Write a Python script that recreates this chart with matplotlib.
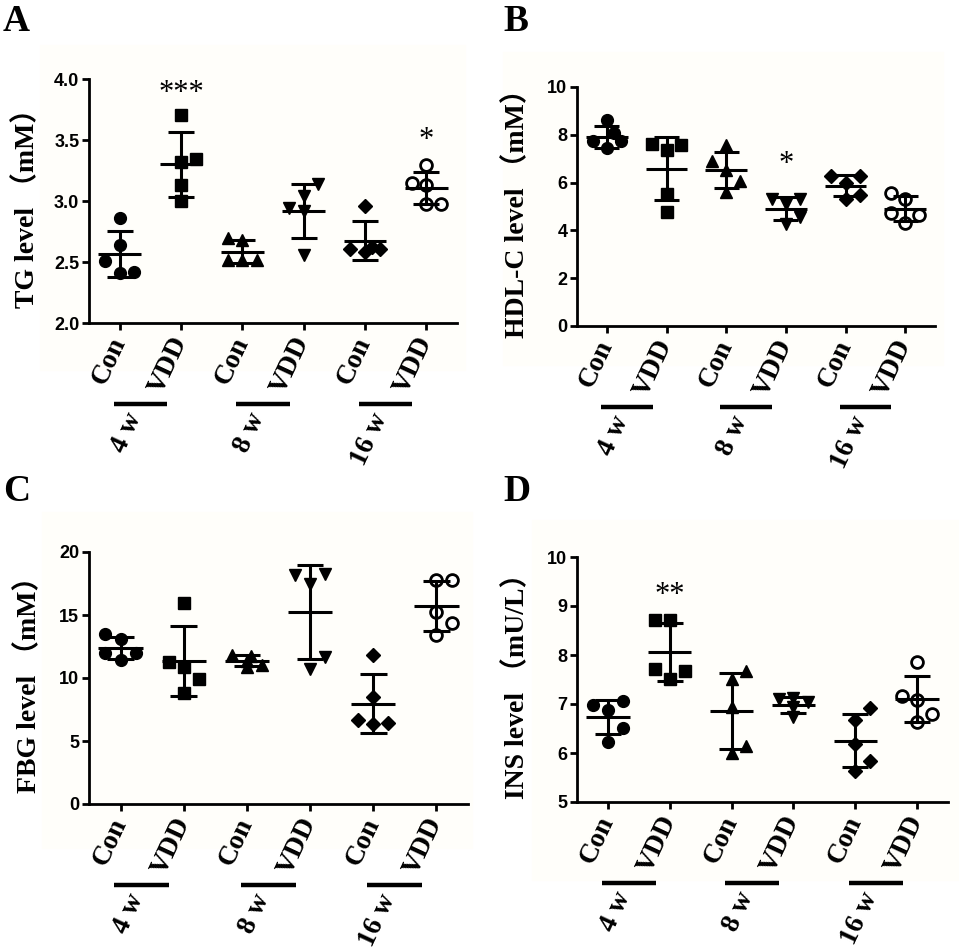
import numpy as np
import matplotlib
matplotlib.use("Agg")
import matplotlib.pyplot as plt
from matplotlib.transforms import ScaledTranslation
from matplotlib.patches import Rectangle

# group layout shared by all panels
groups = ["Con", "VDD", "Con", "VDD", "Con", "VDD"]
weeks = ["4 w", "8 w", "16 w"]
markers = ["o", "s", "^", "v", "D", "o"]
open_marker = [False, False, False, False, False, True]

# panel A: TG (mM)
tg_vals = [[2.86, 2.64, 2.51, 2.41, 2.42],
           [3.705, 3.345, 3.318, 3.132, 2.996],
           [2.70, 2.677, 2.518, 2.513, 2.518],
           [2.94, 3.037, 3.138, 2.92, 2.56],
           [2.96, 2.606, 2.578, 2.62, 2.606],
           [3.296, 3.151, 3.132, 2.977, 2.977]]
tg_cols = [[0, 0, -1, 0, 1], [0, 1, 0, 0, 0], [-1, 0, -1, 0, 1],
           [-1, 0, 1, 0, 0], [0, -1, 0, 0.5, 1], [0, -1, 0, 1, 0]]
tg_stars = {1: ("***", 3.88), 5: ("*", 3.50)}

# panel B: HDL-C (mM)
hdl_vals = [[8.60, 7.72, 8.07, 7.72, 7.44],
            [7.63, 7.56, 7.35, 5.53, 4.79],
            [7.58, 6.89, 6.51, 6.05, 5.59],
            [5.31, 5.31, 5.11, 4.58, 4.27],
            [6.26, 6.26, 6.00, 5.49, 5.31],
            [5.56, 5.31, 4.72, 4.65, 4.30]]
hdl_cols = [[0, -1, 0.5, 1, 0], [-1, 1, 0, 0, 0], [0, -1, 0, 1, 0],
            [-1, 1, 0, 1, 0], [-1, 1, 0, 1, 0], [-1, 0, -1, 1, 0]]
hdl_stars = {3: ("*", 6.77)}

# panel C: FBG (mM)
fbg_vals = [[13.48, 13.06, 11.95, 11.42, 11.95],
            [15.96, 11.24, 10.90, 9.89, 8.79],
            [11.85, 11.75, 11.35, 11.05, 10.85],
            [18.15, 18.28, 17.49, 11.69, 10.71],
            [11.82, 8.47, 6.68, 6.36, 6.46],
            [17.76, 17.81, 15.25, 14.33, 13.40]]
fbg_cols = [[-1, 0, -1, 0, 1], [0, -1, 0, 1, 0], [-1, 0.3, 0, 1, 0],
            [-1, 1, 0, 1, 0], [0, 0, -1, 0, 1], [0, 1, 0, 1, 0]]
fbg_stars = {}

# panel D: INS (mU/L)
ins_vals = [[6.98, 7.07, 6.87, 6.52, 6.23],
            [8.71, 8.71, 7.71, 7.68, 7.50],
            [7.68, 7.52, 6.93, 6.15, 6.00],
            [7.10, 7.12, 7.05, 6.93, 6.73],
            [6.91, 6.68, 6.19, 5.84, 5.64],
            [7.86, 7.16, 7.08, 6.80, 6.64]]
ins_cols = [[-1, 1, 0, 1, 0], [-1, 0, -1, 1, 0], [1, 0, 0, 1, 0],
            [-1, 0, 1, 0, 0], [1, 0, 0, 1, 0], [0, -1, 0, 1, 0]]
ins_stars = {1: ("**", 9.22)}

serif = ["Liberation Serif", "Noto Sans CJK SC"]
sans = "Liberation Sans"

W, H = 959, 950
fig = plt.figure(figsize=(W / 100, H / 100), dpi=100)


def px_rect(l, t, r, b):
    return [l / W, 1 - b / H, (r - l) / W, (b - t) / H]


# very faint cream backdrop behind each panel
for l, t, r, b in [(40, 45, 465, 370), (503, 52, 943, 365),
                   (42, 512, 472, 848), (532, 520, 958, 880)]:
    fig.patches.append(Rectangle((l / W, 1 - b / H), (r - l) / W, (b - t) / H,
                                 transform=fig.transFigure, color="#fffefa",
                                 zorder=-10))


def panel(box, vals, cols, stars, ylim, yticks, ytl, ylabel, letter, lpos, labelpad):
    ax = fig.add_axes(px_rect(*box))
    ax.patch.set_alpha(0)
    spread = 0.24
    for i, (v, c) in enumerate(zip(vals, cols)):
        x = i + spread * np.array(c)
        if open_marker[i]:
            ax.plot(x, v, ls="none", marker=markers[i], ms=8.5, mfc="white",
                    mec="black", mew=2, zorder=3, clip_on=False)
        else:
            ms = 7.5 if markers[i] == "D" else 8.5
            ax.plot(x, v, ls="none", marker=markers[i], ms=ms, color="black",
                    zorder=3, clip_on=False)
        m = np.mean(v)
        sd = np.std(v, ddof=1)
        ax.hlines(m, i - 0.35, i + 0.35, color="black", lw=2.2, zorder=4)
        ax.hlines([m - sd, m + sd], i - 0.21, i + 0.21, color="black", lw=2.2, zorder=4)
        ax.vlines(i, m - sd, m + sd, color="black", lw=2.2, zorder=4)
        if i in stars:
            txt, yy = stars[i]
            ax.text(i, yy, txt, ha="center", va="center", fontsize=22,
                    family=serif, zorder=5)

    ax.set_xlim(-0.5, 5.5)
    ax.set_ylim(*ylim)
    ax.set_yticks(yticks)
    ax.set_yticklabels(ytl, fontsize=13, fontweight="bold", family=sans)
    ax.set_xticks(range(6))
    ax.set_xticklabels(groups, rotation=65, ha="right", va="center",
                       rotation_mode="anchor", fontsize=20, fontweight="bold",
                       family=serif)
    ax.tick_params(axis="x", length=5, width=2, pad=6)
    ax.tick_params(axis="y", length=5, width=2, pad=2)
    for s in ["top", "right"]:
        ax.spines[s].set_visible(False)
    for s in ["left", "bottom"]:
        ax.spines[s].set_linewidth(2)
    ax.set_ylabel(ylabel, fontsize=20, fontweight="bold", family=serif,
                  labelpad=labelpad)

    # week brackets under each Con/VDD pair
    bar_tr = ax.get_xaxis_transform() + ScaledTranslation(0, -58 / 72, fig.dpi_scale_trans)
    lab_tr = ax.get_xaxis_transform() + ScaledTranslation(0, -66 / 72, fig.dpi_scale_trans)
    for k, wk in enumerate(weeks):
        x0 = 2 * k
        ax.plot([x0 - 0.1, x0 + 0.77], [0, 0], color="black", lw=3.2,
                transform=bar_tr, clip_on=False, solid_capstyle="butt")
        ax.text(x0 + 0.26, 0, wk, transform=lab_tr, rotation=65, ha="right",
                va="center", rotation_mode="anchor", fontsize=20,
                fontweight="bold", family=serif)

    fig.text(lpos[0] / W, 1 - lpos[1] / H, letter, fontsize=27,
             fontweight="bold", family=serif, va="top", ha="left")
    return ax


panel((89, 79, 457, 323), tg_vals, tg_cols, tg_stars, (2.0, 4.0),
      [2.0, 2.5, 3.0, 3.5, 4.0], ["2.0", "2.5", "3.0", "3.5", "4.0"],
      "TG level （mM）", "A", (3, 4), 10)
panel((577, 87, 935, 326), hdl_vals, hdl_cols, hdl_stars, (0, 10),
      [0, 2, 4, 6, 8, 10], ["0", "2", "4", "6", "8", "10"],
      "HDL-C level （mM）", "B", (503, 4), 12)
panel((89, 552, 468, 804), fbg_vals, fbg_cols, fbg_stars, (0, 20),
      [0, 5, 10, 15, 20], ["0", "5", "10", "15", "20"],
      "FBG level （mM）", "C", (3, 474), 12)
panel((577, 557, 948, 802), ins_vals, ins_cols, ins_stars, (5, 10),
      [5, 6, 7, 8, 9, 10], ["5", "6", "7", "8", "9", "10"],
      "INS level （mU/L）", "D", (503, 474), 12)

fig.savefig("out.png", dpi=100, facecolor="white")
